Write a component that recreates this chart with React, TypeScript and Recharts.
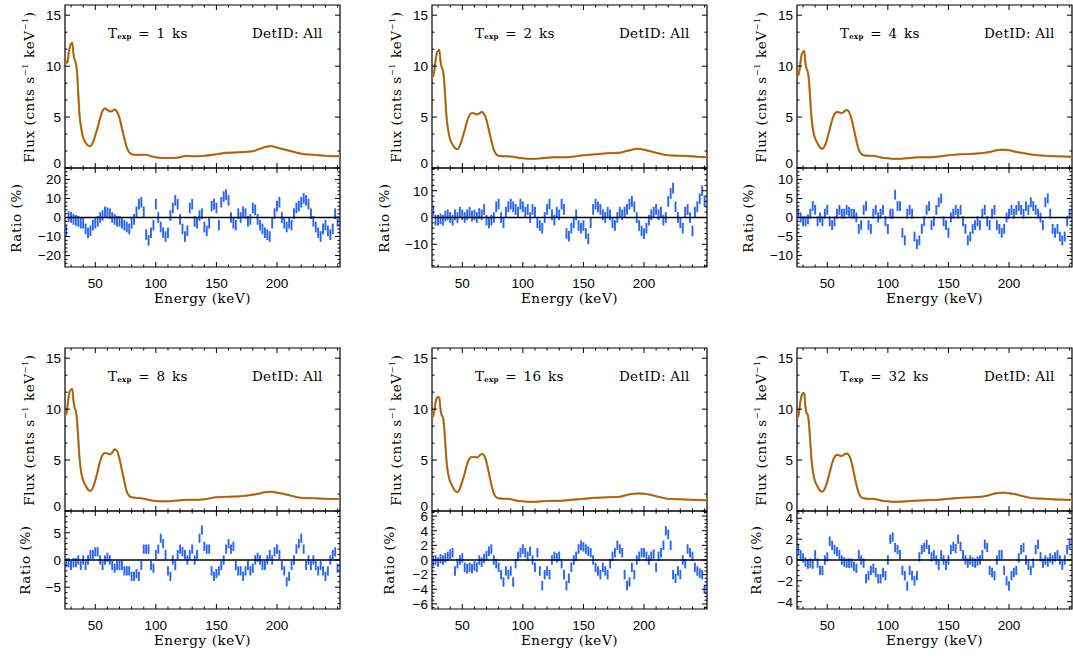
import React from 'react'
import {
  LineChart, ComposedChart, Line, Scatter, ErrorBar, XAxis, YAxis, ReferenceLine, ReferenceArea,
} from 'recharts'

// ---- flux spectra (cnts s^-1 keV^-1) ----
const FLUX_ENERGY = [
  25, 26, 27, 28, 29, 30, 31, 32, 33, 34, 35, 36, 37, 38, 39, 40,
  42, 44, 46, 48, 50, 52, 54, 56, 58, 60, 62, 64, 66, 68, 70, 72, 74, 76, 78, 80,
  84, 88, 92, 96, 100, 105, 110, 115, 120, 125, 130,
  140, 150, 160, 170, 180, 185, 190, 195, 200, 205, 210, 215, 220, 230, 240, 252,
]
const FLUX_1KS = [
  10.7, 10.3, 10.4, 11.2, 11.9, 12.2, 12.3, 11.2, 10.6, 10.3, 9.3, 7.2, 5.2, 4.2, 3.5, 3.0,
  2.5, 2.2, 2.15, 2.5, 3.2, 4.0, 4.9, 5.6, 5.85, 5.7, 5.55, 5.6, 5.75, 5.5, 4.9, 3.9, 2.9, 2.0, 1.55, 1.35,
  1.28, 1.3, 1.3, 1.15, 1.05, 1.0, 0.98, 1.0, 1.05, 1.2, 1.15,
  1.2, 1.35, 1.5, 1.55, 1.65, 1.85, 2.05, 2.15, 2.0, 1.85, 1.7, 1.55, 1.4, 1.3, 1.2, 1.15,
]
const FLUX_2KS = [
  9.2, 9.0, 9.6, 10.6, 11.3, 11.5, 11.6, 10.5, 9.9, 9.6, 8.6, 6.8, 5.0, 4.0, 3.3, 2.8,
  2.3, 1.95, 1.85, 2.2, 2.9, 3.7, 4.6, 5.2, 5.4, 5.35, 5.25, 5.35, 5.5, 5.3, 4.7, 3.7, 2.7, 1.8, 1.35, 1.2,
  1.15, 1.15, 1.1, 1.0, 0.95, 0.9, 0.9, 0.95, 1.0, 1.05, 1.05,
  1.1, 1.25, 1.35, 1.45, 1.5, 1.65, 1.8, 1.9, 1.8, 1.65, 1.5, 1.35, 1.25, 1.2, 1.15, 1.05,
]
const FLUX_4KS = [
  9.4, 9.1, 9.6, 10.5, 11.2, 11.4, 11.5, 10.3, 9.7, 9.4, 8.4, 6.6, 4.9, 3.9, 3.3, 2.9,
  2.4, 2.0, 1.9, 2.2, 2.9, 3.8, 4.7, 5.3, 5.5, 5.45, 5.4, 5.55, 5.7, 5.5, 4.8, 3.8, 2.7, 1.8, 1.4, 1.25,
  1.2, 1.2, 1.1, 1.0, 0.95, 0.9, 0.9, 0.95, 1.0, 1.05, 1.05,
  1.1, 1.25, 1.35, 1.4, 1.5, 1.6, 1.75, 1.8, 1.75, 1.6, 1.5, 1.4, 1.3, 1.2, 1.15, 1.1,
]
const FLUX_8KS = [
  9.4, 9.5, 10.2, 11.2, 11.8, 11.9, 12.0, 10.8, 10.1, 9.8, 8.8, 7.0, 5.2, 4.1, 3.4, 3.0,
  2.5, 2.1, 1.98, 2.3, 3.0, 3.9, 4.9, 5.5, 5.7, 5.65, 5.55, 5.75, 6.05, 5.9, 5.1, 4.0, 2.9, 1.9, 1.5, 1.35,
  1.3, 1.25, 1.15, 1.05, 0.98, 0.95, 0.95, 1.0, 1.05, 1.1, 1.1,
  1.15, 1.35, 1.4, 1.45, 1.6, 1.7, 1.85, 1.9, 1.8, 1.7, 1.55, 1.4, 1.3, 1.25, 1.2, 1.18,
]
const FLUX_16KS = [
  9.2, 9.3, 9.9, 10.7, 11.1, 11.2, 11.1, 10.0, 9.4, 9.2, 8.3, 6.6, 4.9, 3.9, 3.3, 2.9,
  2.4, 1.98, 1.86, 2.2, 2.9, 3.7, 4.6, 5.15, 5.3, 5.3, 5.25, 5.4, 5.6, 5.45, 4.8, 3.7, 2.6, 1.75, 1.35, 1.25,
  1.2, 1.2, 1.1, 1.0, 0.95, 0.9, 0.9, 0.95, 0.98, 1.0, 1.0,
  1.1, 1.2, 1.3, 1.35, 1.4, 1.55, 1.68, 1.73, 1.7, 1.6, 1.45, 1.3, 1.2, 1.15, 1.1, 1.05,
]
const FLUX_32KS = [
  9.2, 9.3, 10.0, 10.9, 11.4, 11.6, 11.5, 10.2, 9.6, 9.4, 8.4, 6.7, 5.0, 4.0, 3.3, 2.9,
  2.4, 2.0, 1.9, 2.2, 2.9, 3.8, 4.7, 5.3, 5.5, 5.45, 5.4, 5.55, 5.65, 5.45, 4.8, 3.7, 2.6, 1.75, 1.35, 1.25,
  1.2, 1.2, 1.1, 1.0, 0.95, 0.9, 0.92, 0.95, 1.0, 1.02, 1.05,
  1.1, 1.2, 1.3, 1.35, 1.45, 1.6, 1.75, 1.8, 1.75, 1.65, 1.5, 1.35, 1.25, 1.2, 1.12, 1.1,
]

// ---- ratio (%) in 2 keV bins ----
const RATIO_ENERGY = [
  26, 28, 30, 32, 34, 36, 38, 40, 42, 44,
  46, 48, 50, 52, 54, 56, 58, 60, 62, 64,
  66, 68, 70, 72, 74, 76, 78, 80, 82, 84,
  86, 88, 90, 92, 94, 96, 98, 100, 102, 104,
  106, 108, 110, 112, 114, 116, 118, 120, 122, 124,
  126, 128, 130, 132, 134, 136, 138, 140, 142, 144,
  146, 148, 150, 152, 154, 156, 158, 160, 162, 164,
  166, 168, 170, 172, 174, 176, 178, 180, 182, 184,
  186, 188, 190, 192, 194, 196, 198, 200, 202, 204,
  206, 208, 210, 212, 214, 216, 218, 220, 222, 224,
  226, 228, 230, 232, 234, 236, 238, 240, 242, 244,
  246, 248, 250,
]
const RATIO_1KS = [
  -7, 0.5, 0, -1, -1.5, -2, -3, -3, -6, -8,
  -7, -4, -3, -2, 0, 1, 3, 2.5, 2, 0,
  -1, -2, -2, -3, -4, -5, -6, -3, -1, 3,
  7, 8, 3, -9, -12, -8, -4, 7, 0, -5,
  -8, -10, -8, 1, 5, 9, 7, -1, -6, -10,
  -7, 5, 7, -2, -3, 1, 2, -5, -7, -3,
  6, 7, 5, -4, 8, 11, 12, 9, 0, -3,
  -4, 2, 0, 3, 2, -2, -1, 5, 4, -1,
  -4, -6, -8, -9, -10, -3, 2, 6, 8, 0,
  -3, -5, -3, -4, 2, 5, 6, 8, 10, 9,
  7, 2, -2, -5, -8, -10, -6, -4, -7, -9,
  -6, 2, -2,
]
const RATIO_2KS = [
  2.5, -1, -1, -0.5, -1, 0.5, 1, 0, -1, 1,
  0, 2, 1, 0, 1, 2, 0.5, 1, 0, 1.5,
  1, 3, -1, -2, -1, 0, 4, 5, 0, -2,
  2, 4, 5, 4, 3, 2, 5, 4, 2, 3,
  0, 3, 2, -2, -3, -4, 0, 3, 5, 1,
  -1, 2, 1, 5, 3, -6, -7, -4, -2, 1,
  -3, -4, -3, -6, -8, -2, 3, 5, 4, 3,
  1, 0, 2, 1, -2, -3, 0, 2, 1, 2,
  3, 5, 6, 4, 0, -3, -5, -6, -4, -1,
  1, 2, 3, 1, 2, -1, 0, 6, 9, 11,
  4, 0, -2, -4, 2, 3, 0, -5, 2, 4,
  7, 10, 6,
]
const RATIO_4KS = [
  1, 0, -1, -1, -0.5, 1, 3, 2, -1, 0,
  -1, 1, 2, -1, -2, -1, 1, 2, 1, 1,
  2, 1.5, 1, 1, 0, -3, -2, 2, 3, -2,
  -3, 1, 2, 0, 1, 2, -1, -3, 1, 1,
  6, 3, 3, -4, -6, 1, 2, 1, -5, -7,
  -6, -3, -1, 2, 3, -2, -1, 2, 4, 5,
  -1, -2, -4, 0, 1, 2, 1, 2, -1, -3,
  -6, -5, -3, -2, -1, -2, 1, 2, -1, -2,
  1, 2, -2, -3, -4, -3, 0, 1, 2, 1,
  2, 3, 2, 1, 3, 2, 4, 3, 2, 1,
  0, -2, 4, 5, 1, -3, -4, -3, -5, -6,
  -5, -1, 1,
]
const RATIO_8KS = [
  -0.5, -0.5, -1, -0.5, -0.5, 0, -1, 0, -1, 0,
  1, 1, 1.5, 1.5, 0, -1, 0, 0.5, 0, -1,
  -1.5, -1, -1, -1, -2, -2, -2, -3, -3, -2.5,
  -3, -1, 2, 2, 2, -1, -1.5, 1, 2, 4,
  3, 1, -2, -3, 0, -1, 1, 2, 1.5, 1,
  0, 1, 2, 0, 1, 4, 5.5, 2.5, 2, 2,
  -2, -3, -2.5, -2, -1, 0, 2, 3, 2, 2.5,
  -1, -2, -2, -3, -2, -1, -2, -1.5, 0, 0.5,
  0, -1, -1, 0, 1, 0, 1.5, 2, 1, -1,
  -2, -4, -3, -1, 0, 2, 3, 4, 2, -1,
  0, -1, 0, -1, -2, -1, -2, -3, -2, 0,
  1, 1.5, -1.5,
]
const RATIO_16KS = [
  -0.2, 0, -0.3, 0.2, 0, 0.3, 0.5, 0.8, 1, -1.5,
  -0.5, 0, 0.3, -1, -1.2, -1, -1.2, -0.8, -1, 0,
  -0.3, 0.2, 0.6, 1.2, 1.5, 0, -0.5, -1, -2, -3,
  -1.5, -2, -1.5, -3, -0.5, 0.5, 1, 1.5, 1, 0.5,
  1.2, 0, -1, 1, -1.5, -3.5, -2, -1.5, -2, 0,
  0.5, 0.3, 0.5, -0.5, -2, -3.5, -2.5, -1, 0, 0.5,
  1.5, 2, 1.8, 1.5, 1.2, 1, 0, -1, -1.5, -2,
  -1, -1.5, -2, -0.5, 0.5, 1, 2, 1.5, 1, -2,
  -3.5, -3, -1, -2, 0, 0.5, 1, 1, 0.5, 0,
  0.5, 0.8, -1, 0.5, 1, 2, 4, 3.5, 2, -2,
  -2.5, -1.5, -2, 0, -0.5, 1.5, 1, 0.5, -1, -1.5,
  -1.8, -2, -4,
]
const RATIO_32KS = [
  1, 0.5, 0.2, -0.2, -0.4, -0.3, -0.4, 0.5, -0.3, -1,
  -1, 0, 0.3, 1.8, 1.4, 1, 0.8, 0.5, 0, -0.2,
  -0.3, -0.3, -0.3, -0.6, -0.8, 0.5, 0, -0.3, -1.8, -1.5,
  -1, -0.8, -1.2, -1.8, -1.8, -1.2, -1.5, 0, 2, 2.2,
  1.2, 1, 0.5, -1, -1.5, -2.5, -1, -1.5, -2, -1.5,
  0.3, 1, 1.2, 1.5, 1, 0.3, 0.5, 0, -0.5, 0.5,
  0, -0.5, 0, 1, 1.3, 1.1, 2, 1.3, 0.5, 0,
  -0.3, 0, -0.2, -0.3, -0.1, 0, 0.5, 1.5, 1.2, -1,
  -1.2, -1.5, 0, 0.5, 0.5, -1, -2, -2.5, -1.5, -1.2,
  -1, 0.2, 1, 1.2, 0, -0.5, -1, -0.3, 1, 1.5,
  0.3, -0.3, 0, -0.2, 0.2, 0, 0.3, 0.5, 0, -0.5,
  0, 1, 1.5,
]

// half-length of the error bars per panel (%)
const RATIO_ERR = [2.8, 2.0, 1.3, 0.85, 0.65, 0.45]
const EXPOSURES = ['1', '2', '4', '8', '16', '32']

// ---- axis ticks ----
const E_DOMAIN: [number, number] = [25, 252]
const E_MAJOR = [50, 100, 150, 200]
const E_MINOR = [30, 40, 60, 70, 80, 90, 110, 120, 130, 140, 160, 170, 180, 190, 210, 220, 230, 240, 250]
const FLUX_DOMAIN: [number, number] = [0, 16]
const FLUX_MAJOR = [0, 5, 10, 15]
const FLUX_MINOR = [1.667, 3.333, 6.667, 8.333, 11.667, 13.333]
const RATIO_MAJOR = [
  [-20, -10, 0, 10, 20],
  [-10, 0, 10],
  [-10, -5, 0, 5, 10],
  [-5, 0, 5],
  [-6, -4, -2, 0, 2, 4, 6],
  [-4, -2, 0, 2, 4],
]
const RATIO_MINOR = [
  [-24, -22, -18, -16, -14, -12, -8, -6, -4, -2, 2, 4, 6, 8, 12, 14, 16, 18, 22, 24],
  [-18, -16, -14, -12, -8, -6, -4, -2, 2, 4, 6, 8, 12, 14, 16, 18],
  [-12, -11, -9, -8, -7, -6, -4, -3, -2, -1, 1, 2, 3, 4, 6, 7, 8, 9, 11, 12],
  [-8, -7, -6, -4, -3, -2, -1, 1, 2, 3, 4, 6, 7, 8],
  [-6.5, -5.5, -5, -4.5, -3.5, -3, -2.5, -1.5, -1, -0.5, 0.5, 1, 1.5, 2.5, 3, 3.5, 4.5, 5, 5.5, 6.5],
  [-4.5, -3.5, -3, -2.5, -1.5, -1, -0.5, 0.5, 1, 1.5, 2.5, 3, 3.5, 4.5],
]
const RATIO_RANGE = [26, 18.5, 13, 9, 6.7, 4.7]

const PANELS = [
  { flux: FLUX_1KS, ratio: RATIO_1KS },
  { flux: FLUX_2KS, ratio: RATIO_2KS },
  { flux: FLUX_4KS, ratio: RATIO_4KS },
  { flux: FLUX_8KS, ratio: RATIO_8KS },
  { flux: FLUX_16KS, ratio: RATIO_16KS },
  { flux: FLUX_32KS, ratio: RATIO_32KS },
]

// ---- layout ----
const COL_X = [65, 432, 797]
const ROW_Y = [5, 348]
const PLOT_W = 275
const FLUX_H = 163
const RATIO_H = [99, 98]
const RATIO_TITLE_DX = [49, 48, 49.5, 40, 43, 41]
const Y_AXIS_W = 45
const X_AXIS_H = 40
const PAD = 3
const TICK_MAJOR = 5
const TICK_MINOR = 2.5

const GREEN = '#3be03b'
const RED = '#f23a12'
const BLUE = '#2a66f4'
const TICK_FONT = '"Liberation Sans", Arial, sans-serif'
const LABEL_FONT = '"DejaVu Serif", serif'

const fmt = (v: number) => (v < 0 ? '\u2212' + Math.abs(v) : String(v))

// tick labels only; tick marks and the box are drawn as reference marks
function leftLabel(low: number, lift: number) {
  return function Tick(props: any) {
    const { x, y, payload } = props
    const v = payload?.value
    return (
      <text x={x} y={v === low ? y - lift : y} dy="0.36em" textAnchor="end"
        fontFamily={TICK_FONT} fontSize={13.5} fill="#000">
        {fmt(v)}
      </text>
    )
  }
}
function bottomLabel(props: any) {
  const { x, y, payload } = props
  return (
    <text x={x} y={y + 17} textAnchor="middle" fontFamily={TICK_FONT} fontSize={13.5} fill="#000">
      {fmt(payload?.value)}
    </text>
  )
}

// IDL-style box: inward ticks on all four sides, as segments in data space
function boxMarks(key: string, yDom: [number, number], yMajor: number[], yMinor: number[], pxPerY: number) {
  const pxPerE = PLOT_W / (E_DOMAIN[1] - E_DOMAIN[0])
  const marks: React.ReactNode[] = []
  const seg = (k: string, a: { x: number, y: number }, b: { x: number, y: number }) => (
    <ReferenceLine key={`${key}-${k}`} segment={[a, b]} stroke="#000" strokeWidth={1} ifOverflow="visible" />
  )
  for (const v of [...E_MAJOR, ...E_MINOR]) {
    const len = (E_MAJOR.includes(v) ? TICK_MAJOR : TICK_MINOR) / pxPerY
    marks.push(seg(`b${v}`, { x: v, y: yDom[0] }, { x: v, y: yDom[0] + len }))
    marks.push(seg(`t${v}`, { x: v, y: yDom[1] }, { x: v, y: yDom[1] - len }))
  }
  for (const v of [...yMajor, ...yMinor]) {
    const len = (yMajor.includes(v) ? TICK_MAJOR : TICK_MINOR) / pxPerE
    marks.push(seg(`l${v}`, { x: E_DOMAIN[0], y: v }, { x: E_DOMAIN[0] + len, y: v }))
    marks.push(seg(`r${v}`, { x: E_DOMAIN[1], y: v }, { x: E_DOMAIN[1] - len, y: v }))
  }
  marks.push(
    <ReferenceArea key={`${key}-box`} x1={E_DOMAIN[0]} x2={E_DOMAIN[1]} y1={yDom[0]} y2={yDom[1]}
      fill="none" fillOpacity={0} stroke="#000" strokeWidth={1.2} ifOverflow="visible" />,
  )
  return marks
}

const noMarker = () => <g />

const labelStyle: React.CSSProperties = {
  position: 'absolute',
  fontFamily: LABEL_FONT,
  fontSize: 13.5,
  letterSpacing: 0.6,
  color: '#000',
  whiteSpace: 'nowrap',
  lineHeight: '14px',
}

function Panel({ idx }: { idx: number }) {
  const col = idx % 3
  const row = Math.floor(idx / 3)
  const left = COL_X[col]
  const fluxTop = ROW_Y[row]
  const ratioTop = fluxTop + FLUX_H
  const ratioH = RATIO_H[row]
  const p = PANELS[idx]
  const fluxData = FLUX_ENERGY.map((e, i) => ({ e, f: p.flux[i] }))
  const ratioData = RATIO_ENERGY.map((e, i) => ({ e, r: p.ratio[i], err: RATIO_ERR[idx] }))
  const rDomain: [number, number] = [-RATIO_RANGE[idx], RATIO_RANGE[idx]]
  const axisCommon = {
    type: 'number' as const, allowDataOverflow: true, interval: 0 as const,
    tickSize: 1, tickMargin: 3, tickLine: false, axisLine: false,
  }

  return (
    <>
      <div style={{ position: 'absolute', left: left - Y_AXIS_W, top: fluxTop - PAD }}>
        <LineChart
          width={Y_AXIS_W + PLOT_W + PAD}
          height={FLUX_H + 2 * PAD}
          data={fluxData}
          margin={{ top: PAD, right: PAD, bottom: PAD, left: 0 }}
        >
          <XAxis {...axisCommon} dataKey="e" domain={E_DOMAIN} hide />
          <YAxis {...axisCommon} domain={FLUX_DOMAIN} ticks={FLUX_MAJOR}
            tick={leftLabel(0, 5)} width={Y_AXIS_W} />
          <Line dataKey="f" type="monotone" stroke={GREEN} strokeWidth={2.2} dot={false} isAnimationActive={false} />
          <Line dataKey="f" type="monotone" stroke={RED} strokeWidth={1.5} dot={false} isAnimationActive={false} />
          {boxMarks(`f${idx}`, FLUX_DOMAIN, FLUX_MAJOR, FLUX_MINOR, FLUX_H / (FLUX_DOMAIN[1] - FLUX_DOMAIN[0]))}
        </LineChart>
      </div>

      <div style={{ position: 'absolute', left: left - Y_AXIS_W, top: ratioTop - PAD }}>
        <ComposedChart
          width={Y_AXIS_W + PLOT_W + PAD}
          height={PAD + ratioH + X_AXIS_H}
          data={ratioData}
          margin={{ top: PAD, right: PAD, bottom: 0, left: 0 }}
        >
          <XAxis {...axisCommon} dataKey="e" domain={E_DOMAIN} ticks={E_MAJOR}
            tick={bottomLabel} height={X_AXIS_H} />
          <YAxis {...axisCommon} dataKey="r" domain={rDomain} ticks={RATIO_MAJOR[idx]}
            tick={leftLabel(NaN, 0)} width={Y_AXIS_W} />
          <Scatter data={ratioData} dataKey="r" shape={noMarker} isAnimationActive={false}>
            <ErrorBar dataKey="err" direction="y" width={0} stroke={BLUE} strokeWidth={1.9} isAnimationActive={false} />
          </Scatter>
          <ReferenceLine y={0} stroke="#000" strokeWidth={1.4} />
          {boxMarks(`r${idx}`, rDomain, RATIO_MAJOR[idx], RATIO_MINOR[idx], ratioH / (rDomain[1] - rDomain[0]))}
        </ComposedChart>
      </div>

      {/* axis titles */}
      <div style={{
        ...labelStyle, left: left - 38, top: fluxTop + FLUX_H / 2,
        transform: 'translate(-50%, -50%) rotate(-90deg)',
      }}>
        Flux (cnts s<sup style={{ fontSize: '0.6em' }}>−1</sup> keV<sup style={{ fontSize: '0.6em' }}>−1</sup>)
      </div>
      <div style={{
        ...labelStyle, left: left - RATIO_TITLE_DX[idx], top: ratioTop + ratioH / 2,
        transform: 'translate(-50%, -50%) rotate(-90deg)',
      }}>
        Ratio (%)
      </div>
      <div style={{
        ...labelStyle, left: left + PLOT_W / 2, top: ratioTop + ratioH + 24,
        transform: 'translateX(-50%)',
      }}>
        Energy (keV)
      </div>

      {/* annotations */}
      <div style={{ ...labelStyle, left: left + 43, top: fluxTop + 21, letterSpacing: 0.3, wordSpacing: 2 }}>
        T<sub style={{ fontSize: 7, fontWeight: 700, verticalAlign: '-1px' }}>exp</sub> = {EXPOSURES[idx]} ks
      </div>
      <div style={{ ...labelStyle, left: left + 187, top: fluxTop + 21, letterSpacing: 0.3 }}>
        DetID: All
      </div>
    </>
  )
}

export default function App() {
  return (
    <div style={{
      position: 'fixed', left: 0, top: 0, width: 1073, height: 659,
      overflow: 'hidden', background: '#fff',
    }}>
      {PANELS.map((_, i) => <Panel key={i} idx={i} />)}
    </div>
  )
}
